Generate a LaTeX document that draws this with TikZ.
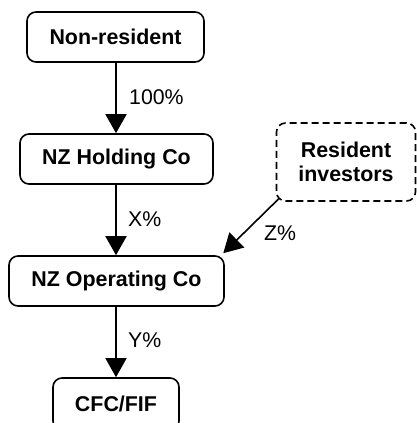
\documentclass[tikz,border=0pt]{standalone}
\usepackage{fontspec}
\setmainfont{Liberation Sans}
\usetikzlibrary{arrows.meta,calc}
\tikzset{
  box/.style={draw=black, line width=1.6pt, rounded corners=9pt, inner sep=0pt,
    font=\bfseries\fontsize{21.4}{24}\selectfont, align=center},
  dbox/.style={box, dash pattern=on 7pt off 4pt},
  pct/.style={anchor=west, inner sep=0pt, font=\fontsize{21.3}{24}\selectfont},
  link/.style={line width=1.6pt, -{Triangle[width=21pt,length=19pt]}}
}
\begin{document}
\begin{tikzpicture}[x=1pt,y=-1pt]
\useasboundingbox (0,0) rectangle (417,423);
\node[box, minimum width=177pt, minimum height=50pt] (nonres) at (115.5,37) {Non-resident};
\node[box, minimum width=193pt, minimum height=50pt] (hold) at (116.5,159) {NZ Holding Co};
\node[box, minimum width=215pt, minimum height=50pt] (oper) at (116.5,281) {NZ Operating Co};
\node[box, minimum width=126pt, minimum height=52pt] (cfc) at (116,404) {CFC/FIF};
\node[dbox, minimum width=139pt, minimum height=78pt] (resid) at (346,162) {Resident\\investors};
\coordinate (zs) at ($(resid.south west)+(3.5,-3.5)$);
\coordinate (ze) at ($(oper.north east)+(-1.5,-2)$);
\draw[link] (nonres.south -| 116,0) -- (hold.north -| 116,0);
\draw[link] (hold.south -| 116,0) -- (oper.north -| 116,0);
\draw[link] (oper.south -| 116,0) -- (cfc.north -| 116,0);
\draw[link] (zs) -- (ze);
\node[pct] (l100) at (129,97) {100\%};
\node[pct] (lx) at (128,219) {X\%};
\node[pct] (ly) at (128,340) {Y\%};
\node[pct] (lz) at (264,233) {Z\%};
\end{tikzpicture}
\end{document}
